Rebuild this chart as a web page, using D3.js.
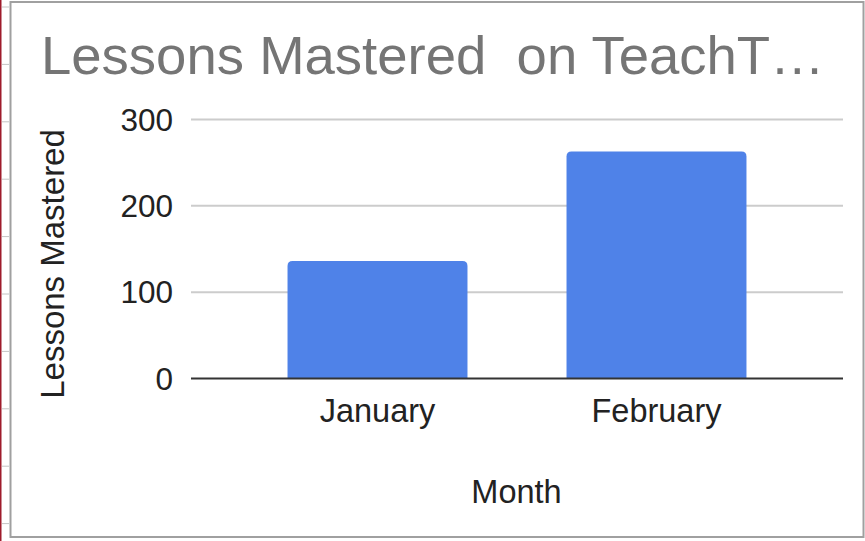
<!DOCTYPE html>
<html>
<head>
<meta charset="utf-8">
<script src="https://cdn.jsdelivr.net/npm/d3@7"></script>
<style>
  body { margin: 0; background: #ffffff; }
  svg { display: block; }
</style>
</head>
<body>
<div id="chart"></div>
<script>
// data
var months = ["January", "February"];
var lessons = [136, 263];
var yTicks = [0, 100, 200, 300];
var chartTitle = "Lessons Mastered  on TeachT\u2026";
var xTitle = "Month";
var yTitle = "Lessons Mastered";

var W = 865, H = 541;
var font = "'Liberation Sans', Arial, Helvetica, sans-serif";

var svg = d3.select("#chart").append("svg")
    .attr("width", W)
    .attr("height", H);

// spreadsheet edge behind the chart
svg.append("line")
    .attr("x1", 0.75).attr("x2", 0.75)
    .attr("y1", 0).attr("y2", H)
    .attr("stroke", "#9e1b2b")
    .attr("stroke-width", 1.5);

d3.range(7, H, 57.4).forEach(function (y) {
    svg.append("line")
        .attr("x1", 2).attr("x2", 9)
        .attr("y1", y).attr("y2", y)
        .attr("stroke", "#c4c4c4")
        .attr("stroke-width", 1);
});

// chart frame
svg.append("rect")
    .attr("x", 10.5)
    .attr("y", 2)
    .attr("width", 853)
    .attr("height", 535)
    .attr("fill", "#ffffff")
    .attr("stroke", "#a0a0a0")
    .attr("stroke-width", 2);

// title
svg.append("text")
    .attr("x", 41)
    .attr("y", 74)
    .attr("font-family", font)
    .attr("font-size", "54.5px")
    .attr("fill", "#757575")
    .attr("xml:space", "preserve")
    .style("white-space", "pre")
    .text(chartTitle);

var plotLeft = 191, plotRight = 843;

var x = d3.scaleBand()
    .domain(months)
    .range([plotLeft, plotRight])
    .paddingInner(0.355)
    .paddingOuter(0.346);

var y = d3.scaleLinear()
    .domain([0, 300])
    .range([378.5, 119.5]);

// gridlines
svg.append("g")
    .selectAll("line")
    .data(yTicks.filter(function (d) { return d !== 0; }))
    .join("line")
    .attr("x1", plotLeft)
    .attr("x2", plotRight)
    .attr("y1", function (d) { return y(d); })
    .attr("y2", function (d) { return y(d); })
    .attr("stroke", "#cccccc")
    .attr("stroke-width", 2);

// y tick labels
svg.append("g")
    .selectAll("text")
    .data(yTicks)
    .join("text")
    .attr("x", 173)
    .attr("y", function (d) { return y(d); })
    .attr("dy", "0.35em")
    .attr("text-anchor", "end")
    .attr("font-family", font)
    .attr("font-size", "31.5px")
    .attr("fill", "#222222")
    .text(function (d) { return d; });

// bars with rounded tops
var r = 5;
function barPath(d, i) {
    var x0 = x(months[i]), x1 = x0 + x.bandwidth();
    var yt = y(d), yb = y(0);
    return "M" + x0 + "," + yb +
        "V" + (yt + r) +
        "Q" + x0 + "," + yt + " " + (x0 + r) + "," + yt +
        "H" + (x1 - r) +
        "Q" + x1 + "," + yt + " " + x1 + "," + (yt + r) +
        "V" + yb + "Z";
}

svg.append("g")
    .selectAll("path")
    .data(lessons)
    .join("path")
    .attr("d", barPath)
    .attr("fill", "#4f82e8");

// baseline
svg.append("line")
    .attr("x1", plotLeft)
    .attr("x2", plotRight)
    .attr("y1", y(0))
    .attr("y2", y(0))
    .attr("stroke", "#333333")
    .attr("stroke-width", 2);

// x labels
svg.append("g")
    .selectAll("text")
    .data(months)
    .join("text")
    .attr("x", function (d) { return x(d) + x.bandwidth() / 2; })
    .attr("y", 421.5)
    .attr("text-anchor", "middle")
    .attr("font-family", font)
    .attr("font-size", "32.5px")
    .attr("fill", "#222222")
    .text(function (d) { return d; });

// axis titles
svg.append("text")
    .attr("x", 516.5)
    .attr("y", 502.5)
    .attr("text-anchor", "middle")
    .attr("font-family", font)
    .attr("font-size", "32.5px")
    .attr("fill", "#222222")
    .text(xTitle);

svg.append("text")
    .attr("transform", "translate(64,264) rotate(-90)")
    .attr("text-anchor", "middle")
    .attr("font-family", font)
    .attr("font-size", "33px")
    .attr("fill", "#222222")
    .text(yTitle);
</script>
</body>
</html>
